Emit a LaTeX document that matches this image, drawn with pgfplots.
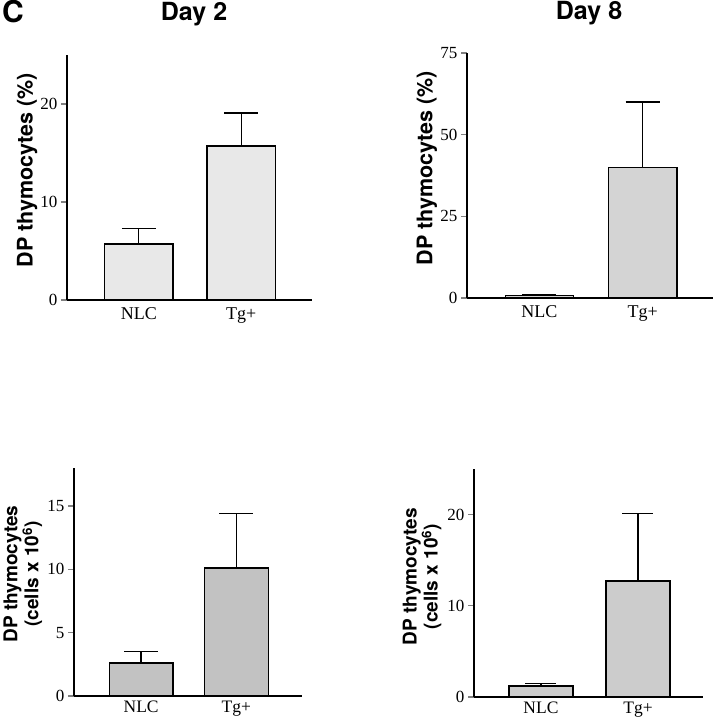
\documentclass[border=0pt]{standalone}
\usepackage{fontspec}
\setmainfont{Liberation Serif}
\newfontfamily\hv{TeX Gyre Heros}
\usepackage{pgfplots}
\pgfplotsset{compat=1.18}

\pgfplotsset{
  panel/.style={
    scale only axis,
    anchor=south west,
    axis x line=bottom,
    axis y line=left,
    axis line style={-, line width=1.4pt},
    enlargelimits=false,
    ymin=0,
    xtick={0,1},
    xticklabels={NLC,Tg+},
    major x tick style={draw=none},
    tick align=outside,
    major tick length=6pt,
    major y tick style={line width=1.2pt},
    tick label style={font=\fontsize{17}{19}\selectfont},
    x tick label style={font=\fontsize{18}{20}\selectfont, yshift=1.5pt},
    /pgf/number format/assume math mode=true,
    ylabel style={font=\hv\bfseries\fontsize{21.5}{23}\selectfont, anchor=center, align=center},
  },
  bars/.style={
    ybar, draw=black, line width=1.4pt,
    error bars/y dir=plus,
    error bars/y explicit,
    error bars/error mark=|,
    error bars/error bar style={line width=1.4pt},
    error bars/error mark options={line width=1.4pt, mark size=#1},
  },
  bars/.default=17pt,
}

\begin{document}
\begin{tikzpicture}
\useasboundingbox (0pt,0pt) rectangle (715pt,720pt);

% titles
\node[anchor=base west, inner sep=0pt, font=\hv\bfseries\fontsize{30}{32}\selectfont] at (2pt,697pt) {C};
\node[anchor=base, inner sep=0pt, font=\hv\bfseries\fontsize{25}{28}\selectfont] at (194pt,699pt) {Day 2};
\node[anchor=base, inner sep=0pt, font=\hv\bfseries\fontsize{25}{28}\selectfont] at (589pt,700pt) {Day 8};

% Day 2, percentage
\begin{axis}[panel, at={(67pt,420pt)}, width=245pt, height=245pt,
  xmin=-0.70, xmax=1.69, ymax=25, ytick={0,10,20},
  ylabel={DP thymocytes (\%)},
  ylabel style={at={(axis description cs:-0.163,0.529)}}]
  \addplot[bars, bar width=0.67, fill=black!9] coordinates {
    (0,5.7) +- (0,1.6)
    (1,15.7) +- (0,3.4)
  };
\end{axis}

% Day 8, percentage
\begin{axis}[panel, at={(467pt,422pt)}, width=246pt, height=245pt,
  xmin=-0.70, xmax=1.68, ymax=75, ytick={0,25,50,75},
  ylabel={DP thymocytes (\%)},
  ylabel style={at={(axis description cs:-0.163,0.529)}}]
  \addplot[bars, bar width=0.66, fill=black!17] coordinates {
    (0,0.8) +- (0,0.2)
    (1,40) +- (0,20)
  };
\end{axis}

% Day 2, cell number
\begin{axis}[panel, at={(74pt,24pt)}, width=228pt, height=228pt,
  xmin=-0.705, xmax=1.69, ymax=18, ytick={0,5,10,15},
  x tick label style={font=\fontsize{17.5}{20}\selectfont, yshift=3pt},
  ylabel={DP thymocytes\\(cells x 10\textsuperscript{6})},
  ylabel style={font=\hv\bfseries\fontsize{19}{21}\selectfont, at={(axis description cs:-0.224,0.535)}}]
  \addplot[bars, bar width=0.67, fill=black!24] coordinates {
    (0,2.6) +- (0,0.9)
    (1,10.1) +- (0,4.3)
  };
\end{axis}

% Day 8, cell number
\begin{axis}[panel, at={(474pt,23pt)}, width=229pt, height=228pt,
  xmin=-0.69, xmax=1.67, ymax=25, ytick={0,10,20},
  x tick label style={font=\fontsize{17.5}{20}\selectfont, yshift=3pt},
  ylabel={DP thymocytes\\(cells x 10\textsuperscript{6})},
  ylabel style={font=\hv\bfseries\fontsize{19}{21}\selectfont, at={(axis description cs:-0.227,0.528)}}]
  \addplot[bars=15.5pt, bar width=0.66, fill=black!20] coordinates {
    (0,1.2) +- (0,0.3)
    (1,12.7) +- (0,7.4)
  };
\end{axis}
\end{tikzpicture}
\end{document}
